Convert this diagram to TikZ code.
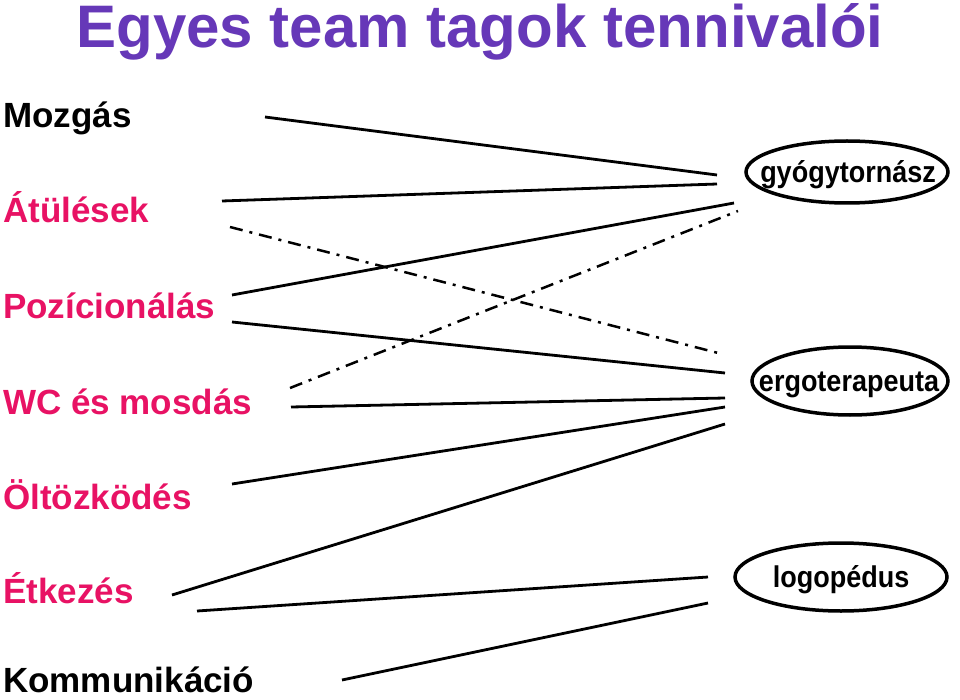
\documentclass[tikz,border=0pt]{standalone}
\usepackage{fontspec}
\setmainfont{Liberation Sans}
\definecolor{titlepurple}{RGB}{102,56,184}
\definecolor{itempink}{RGB}{232,18,100}
\newcommand{\narrowtext}[1]{\scalebox{0.9}[1]{#1}}
\begin{document}
\begin{tikzpicture}[x=1pt,y=-1pt,
  item/.style={anchor=base west,inner sep=0pt,font=\fontsize{35}{40}\selectfont\bfseries},
  pinkitem/.style={item,text=itempink},
  role/.style={inner sep=0pt,font=\fontsize{30}{32}\selectfont\bfseries},
  rolering/.style={line width=3.5pt},
  link/.style={line width=2.8pt},
  dashdot/.style={line width=2.5pt,dash pattern=on 13pt off 7pt on 3pt off 7pt}]
\useasboundingbox (0,0) rectangle (960,700);
\fill[white] (0,0) rectangle (960,700);
\node[anchor=base,inner sep=0pt,text=titlepurple,font=\fontsize{60}{64}\selectfont\bfseries] (title) at (480,48) {Egyes team tagok tennivalói};
\node[item] (moz) at (3,128) {Mozgás};
\node[pinkitem] (atu) at (3,223) {Átülések};
\node[pinkitem] (poz) at (3,318) {Pozícionálás};
\node[pinkitem] (wc) at (3,414) {WC és mosdás};
\node[pinkitem] (olt) at (3,509) {Öltözködés};
\node[pinkitem] (etk) at (3,603) {Étkezés};
\node[item] (kom) at (3,692) {Kommunikáció};
\node[role,anchor=base] (gyo) at (848,183) {\narrowtext{gyógytornász}};
\node[role,anchor=base] (erg) at (849,391) {\narrowtext{ergoterapeuta}};
\node[role,anchor=base] (log) at (841,587) {\narrowtext{logopédus}};
\draw[rolering] (847,172) ellipse [x radius=101pt, y radius=31pt];
\draw[rolering] (850,381) ellipse [x radius=98pt, y radius=34pt];
\draw[rolering] (841,577) ellipse [x radius=106pt, y radius=34pt];
% end points
\coordinate (mozR) at (265,117);
\coordinate (atuR) at (222,201);
\coordinate (atuD) at (230,227);
\coordinate (pozA) at (232,295);
\coordinate (pozB) at (232,322);
\coordinate (wcD) at (290,388);
\coordinate (wcR) at (291,407);
\coordinate (oltR) at (232,484);
\coordinate (etkA) at (172,595);
\coordinate (etkB) at (197,611);
\coordinate (komR) at (342,680);
\coordinate (gyoA) at (717,175);
\coordinate (gyoB) at (717,184);
\coordinate (gyoC) at (734,203);
\coordinate (gyoD) at (738,211);
\coordinate (ergA) at (722,354);
\coordinate (ergB) at (725,373);
\coordinate (ergC) at (725,398);
\coordinate (ergD) at (725,407);
\coordinate (ergE) at (725,424);
\coordinate (logA) at (708,577);
\coordinate (logB) at (708,603);
\draw[link] (mozR) -- (gyoA);
\draw[link] (atuR) -- (gyoB);
\draw[dashdot] (atuD) -- (ergA);
\draw[link] (pozA) -- (gyoC);
\draw[link] (pozB) -- (ergB);
\draw[dashdot] (wcD) -- (gyoD);
\draw[link] (wcR) -- (ergC);
\draw[link] (oltR) -- (ergD);
\draw[link] (etkA) -- (ergE);
\draw[link] (etkB) -- (logA);
\draw[link] (komR) -- (logB);
\end{tikzpicture}
\end{document}
